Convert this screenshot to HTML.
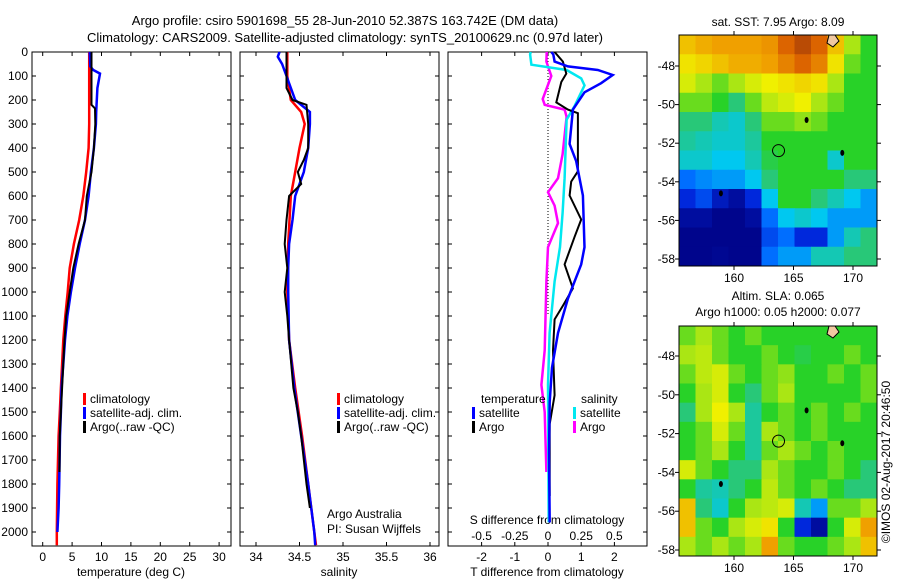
<!DOCTYPE html>
<html><head><meta charset="utf-8"><style>
body{margin:0;background:#fff;}
svg{display:block;font-family:"Liberation Sans",sans-serif;}
text{font-size:12px;fill:#000;}
</style></head><body>
<svg id="fig" width="900" height="580" viewBox="0 0 900 580" xmlns="http://www.w3.org/2000/svg">
<text x="345" y="25" text-anchor="middle" style="font-size:13px">Argo profile: csiro 5901698_55 28-Jun-2010 52.387S 163.742E (DM data)</text>
<text x="345" y="42" text-anchor="middle" style="font-size:13px">Climatology: CARS2009. Satellite-adjusted climatology: synTS_20100629.nc (0.97d later)</text>
<g id="g"></g>
</svg>
<script>
// ---- profile data ----
const tClimD=[0,100,200,300,400,500,600,700,800,900,1000,1100,1200,1300,1400,1500,1600,1700,1800,1900,2000,2055];
const tClimV=[7.9,7.9,7.9,7.9,7.8,7.4,6.9,6.2,5.3,4.6,4.25,3.85,3.5,3.3,3.1,2.9,2.7,2.6,2.5,2.45,2.4,2.4];
const tSatD=[0,60,75,90,150,250,300,400,500,600,700,800,900,1000,1100,1200,1300,1400,1500,1600,1800,1900,2000];
const tSatV=[8.0,8.1,8.6,9.75,9.3,9.1,9.05,8.7,8.2,7.8,7.2,6.3,5.5,4.8,4.2,3.8,3.5,3.2,3.1,2.95,2.8,2.7,2.5];
const tArgoD=[0,220,235,300,400,500,600,700,800,900,1000,1100,1200,1400,1500,1600,1750];
const tArgoV=[8.3,8.3,8.9,8.95,8.7,8.3,7.5,7.2,6.1,5.2,4.6,4.0,3.7,3.3,3.1,2.9,2.85];
const sClimD=[0,100,200,250,300,400,500,600,800,1000,1200,1400,1600,1800,2000,2055];
const sClimV=[34.36,34.36,34.4,34.52,34.56,34.5,34.45,34.4,34.37,34.36,34.38,34.45,34.53,34.6,34.67,34.69];
const sSatD=[0,20,50,100,200,250,300,400,500,600,700,800,900,1000,1200,1400,1600,1800,2000,2055];
const sSatV=[34.27,34.25,34.3,34.35,34.45,34.62,34.62,34.6,34.55,34.45,34.42,34.38,34.37,34.37,34.38,34.44,34.52,34.6,34.67,34.68];
const sArgoD=[0,150,200,220,300,400,450,500,550,600,700,800,900,1000,1100,1200,1400,1500,1600,1800,1900];
const sArgoV=[34.35,34.35,34.42,34.58,34.6,34.6,34.55,34.48,34.52,34.38,34.35,34.33,34.36,34.33,34.36,34.38,34.43,34.48,34.52,34.58,34.62];
const dTSatD=[0,10,40,60,75,96,130,168,240,383,455,598,813,885,1028,1171,1315,1458,1673,1960];
const dTSatV=[0.1,0.16,0.2,0.6,1.5,1.95,1.6,1.1,0.75,0.65,0.85,1.05,1.1,1.0,0.6,0.3,0.12,0.05,0.03,0.05];
const dTArgoD=[0,40,90,125,210,240,255,300,497,540,598,698,770,885,985,1057,1114,1243,1430,1550,1850];
const dTArgoV=[0.2,0.45,0.55,0.4,0.25,0.6,0.9,0.9,0.9,0.7,0.65,1.0,0.8,0.5,0.75,0.45,0.2,0.15,0.2,0.05,0.05];
const dSSatD=[0,10,53,75,110,139,225,282,526,670,813,956,1171,1387,1960];
const dSSatV=[-0.13,-0.135,-0.125,0.14,0.25,0.275,0.2,0.14,0.125,0.11,0.09,0.05,0.012,0,0.005];
const dSArgoD=[0,40,100,196,220,240,270,426,526,584,640,713,813,956,1243,1387,1500,1750];
const dSArgoV=[-0.01,-0.012,0.025,-0.04,-0.025,0.125,0.14,0.11,0.075,0,0.05,0.075,0,-0.012,-0.025,-0.05,-0.025,-0.012];
// ---- map data (12 x 12, colour index 0..1, rows north->south) ----
const sstGrid=[
[.75,.78,.8,.8,.8,.82,.9,.95,.9,.75,.6,.5],
[.7,.72,.75,.78,.78,.8,.85,.9,.85,.7,.55,.5],
[.65,.6,.55,.6,.65,.68,.7,.72,.7,.6,.5,.5],
[.55,.55,.5,.45,.55,.62,.65,.68,.6,.55,.5,.5],
[.45,.45,.4,.38,.45,.55,.55,.58,.55,.5,.5,.5],
[.42,.4,.38,.38,.42,.5,.5,.5,.5,.5,.5,.5],
[.38,.38,.35,.35,.4,.48,.5,.5,.5,.38,.5,.5],
[.25,.28,.3,.3,.35,.45,.5,.5,.5,.5,.45,.45],
[.15,.2,.1,.05,.15,.35,.5,.5,.45,.4,.35,.3],
[.05,.05,.02,.02,.05,.25,.35,.38,.35,.3,.3,.3],
[.02,.02,.02,.02,.02,.2,.25,.15,.15,.3,.4,.45],
[.02,.02,.03,.02,.02,.25,.3,.3,.4,.4,.45,.45]];
const slaGrid=[
[.55,.6,.55,.5,.55,.5,.5,.5,.5,.5,.5,.5],
[.6,.62,.55,.5,.5,.55,.5,.48,.5,.5,.55,.5],
[.55,.62,.65,.55,.5,.55,.58,.5,.5,.55,.5,.55],
[.5,.6,.65,.5,.45,.55,.6,.5,.5,.5,.5,.55],
[.45,.6,.68,.6,.42,.5,.55,.5,.55,.5,.55,.5],
[.5,.55,.65,.55,.42,.6,.55,.5,.55,.5,.5,.5],
[.5,.55,.6,.5,.42,.55,.6,.55,.5,.55,.5,.5],
[.65,.55,.5,.45,.45,.6,.55,.5,.5,.55,.5,.45],
[.5,.42,.4,.45,.5,.62,.55,.5,.55,.5,.45,.45],
[.75,.45,.38,.5,.6,.62,.65,.4,.3,.55,.55,.6],
[.75,.55,.5,.6,.65,.7,.5,.15,.05,.5,.65,.8],
[.6,.55,.6,.55,.6,.8,.55,.5,.5,.55,.6,.75]];
const depthTicks=[0,100,200,300,400,500,600,700,800,900,1000,1100,1200,1300,1400,1500,1600,1700,1800,1900,2000];
const tTicks=[0,5,10,15,20,25,30];
const sTicks=[34,34.5,35,35.5,36];
const sTickLabels=["34","34.5","35","35.5","36"];
const dTicks=[-2,-1,0,1,2];
const dSLabels=["-0.5","-0.25","0","0.25","0.5"];
const latTicks=[-48,-50,-52,-54,-56,-58];
const lonTicks=[160,165,170];
const argoPos=[163.742,-52.387];

const NS="http://www.w3.org/2000/svg";
const G=document.getElementById('g');
function mk(tag,attrs,parent){const e=document.createElementNS(NS,tag);for(const k in attrs)e.setAttribute(k,attrs[k]);(parent||G).appendChild(e);return e;}
const Y0=52,YB=546;
const yD=d=>Y0+d*0.24;
const xT=v=>42.7+5.88*v;
const xS=v=>256+87*(v-34);
const xDT=v=>548+33.2*v;
const xDS=v=>548+33.2*4*v;

function frame(x0,x1,name){const r=mk('rect',{x:x0,y:Y0,width:x1-x0,height:YB-Y0,fill:'none',stroke:'#000','stroke-width':1});

depthTicks.forEach(d=>{const y=yD(d);mk('line',{x1:x0,x2:x0+4,y1:y,y2:y,stroke:'#000'});mk('line',{x1:x1-4,x2:x1,y1:y,y2:y,stroke:'#000'});});}
function line(D,V,xf,col,name,w){const pts=D.map((d,i)=>xf(V[i]).toFixed(1)+','+yD(d).toFixed(1)).join(' ');
const p=mk('polyline',{points:pts,fill:'none',stroke:col,'stroke-width':w||2.5});
}
function txt(x,y,s,anchor,name){const t=mk('text',{x:x,y:y,'text-anchor':anchor||'start'});t.textContent=s;
return t;}
function legend(x,y,col,s,name){mk('rect',{x:x,y:y-10,width:3,height:12,fill:col});txt(x+7,y,s,'start',name);}

frame(32,231,'temperature-panel');frame(240,439,'salinity-panel');frame(448,647,'difference-panel');
depthTicks.forEach(d=>{txt(28,yD(d)+4,String(d),'end','depth-tick-label');});
tTicks.forEach(v=>{const x=xT(v);mk('line',{x1:x,x2:x,y1:YB,y2:YB-4,stroke:'#000'});mk('line',{x1:x,x2:x,y1:Y0,y2:Y0+4,stroke:'#000'});txt(x,561,String(v),'middle','temperature-tick-label');});
sTicks.forEach((v,i)=>{const x=xS(v);mk('line',{x1:x,x2:x,y1:YB,y2:YB-4,stroke:'#000'});mk('line',{x1:x,x2:x,y1:Y0,y2:Y0+4,stroke:'#000'});txt(x,561,sTickLabels[i],'middle','salinity-tick-label');});
dTicks.forEach((v,i)=>{const x=xDT(v);mk('line',{x1:x,x2:x,y1:YB,y2:YB-4,stroke:'#000'});mk('line',{x1:x,x2:x,y1:Y0,y2:Y0+4,stroke:'#000'});txt(x,561,String(v),'middle','t-diff-tick-label');txt(x,540,dSLabels[i],'middle','s-diff-tick-label');});
txt(131,576,'temperature (deg C)','middle','temperature-axis-title');
txt(339,576,'salinity','middle','salinity-axis-title');
txt(547,576,'T difference from climatology','middle','t-diff-axis-title');
txt(547,524,'S difference from climatology','middle','s-diff-axis-title');
mk('line',{x1:548,x2:548,y1:Y0,y2:yD(1100),stroke:'#000','stroke-dasharray':'1,2'});

line(tClimD,tClimV,xT,'#ff0000','temperature-climatology-line');
line(tSatD,tSatV,xT,'#0000ff','temperature-satellite-line');
line(tArgoD,tArgoV,xT,'#000000','temperature-argo-line',2);
line(sClimD,sClimV,xS,'#ff0000','salinity-climatology-line');
line(sSatD,sSatV,xS,'#0000ff','salinity-satellite-line');
line(sArgoD,sArgoV,xS,'#000000','salinity-argo-line',2);
line(dSArgoD,dSArgoV,xDS,'#ff00ff','s-diff-argo-line');
line(dSSatD,dSSatV,xDS,'#00e8f0','s-diff-satellite-line');
line(dTArgoD,dTArgoV,xDT,'#000000','t-diff-argo-line',2);
line(dTSatD,dTSatV,xDT,'#0000ff','t-diff-satellite-line');

[[83,'temp'],[337,'sal']].forEach(([x,n])=>{legend(x,403,'#ff0000','climatology',n+'-legend-climatology');legend(x,417,'#0000ff','satellite-adj. clim.',n+'-legend-satellite');legend(x,431,'#000','Argo(..raw -QC)',n+'-legend-argo');});
txt(481,403,'temperature','start','diff-legend-temperature-header');
txt(581,403,'salinity','start','diff-legend-salinity-header');
legend(472,417,'#0000ff','satellite','diff-legend-t-satellite');
legend(472,431,'#000','Argo','diff-legend-t-argo');
legend(573,417,'#00e8f0','satellite','diff-legend-s-satellite');
legend(573,431,'#ff00ff','Argo','diff-legend-s-argo');
txt(327,518,'Argo Australia','start','argo-australia-label');
txt(327,533,'PI: Susan Wijffels','start','pi-label');

// maps
const stops=[[0,[0,0,128]],[0.15,[0,40,220]],[0.25,[0,110,255]],[0.35,[0,200,240]],[0.45,[40,200,120]],[0.5,[40,210,40]],[0.6,[170,230,20]],[0.68,[240,240,0]],[0.8,[240,160,0]],[0.9,[220,100,0]],[1,[150,50,10]]];
function cmap(v){for(let i=1;i<stops.length;i++){if(v<=stops[i][0]){const a=stops[i-1],b=stops[i],t=(v-a[0])/(b[0]-a[0]);const c=a[1].map((x,k)=>Math.round(x+(b[1][k]-x)*t));return `rgb(${c})`;}}return 'rgb(150,50,10)';}
function map(grid,x0,y0,x1,y1,latA,yA,latB,yB,name){
const lonX=l=>734+(l-160)*11.9; const latY=l=>yA+(l-latA)*(yB-yA)/(latB-latA);
const rows=grid.length,cols=grid[0].length,cw=(x1-x0)/cols,ch=(y1-y0)/rows;
grid.forEach((row,r)=>row.forEach((v,c)=>{const e=mk('rect',{x:x0+c*cw,y:y0+r*ch,width:cw+0.5,height:ch+0.5,fill:cmap(v)});
}));
const f=mk('rect',{x:x0,y:y0,width:x1-x0,height:y1-y0,fill:'none',stroke:'#000'});

latTicks.forEach(l=>{const y=latY(l);mk('line',{x1:x0,x2:x0-4,y1:y,y2:y,stroke:'#000'});mk('line',{x1:x1,x2:x1+4,y1:y,y2:y,stroke:'#000'});txt(x0-4,y+4,String(l),'end',name+'-lat-label');});
lonTicks.forEach(l=>{const x=lonX(l);mk('line',{x1:x,x2:x,y1:y1,y2:y1+4,stroke:'#000'});mk('line',{x1:x,x2:x,y1:y0,y2:y0-4,stroke:'#000'});txt(x,y1+16,String(l),'middle',name+'-lon-label');});
const c=mk('circle',{cx:lonX(argoPos[0]),cy:latY(argoPos[1]),r:6,fill:'none',stroke:'#000'});

[[166.1,-50.8],[169.1,-52.5],[158.9,-54.6]].forEach(p=>mk('ellipse',{cx:lonX(p[0]),cy:latY(p[1]),rx:2,ry:3,fill:'#000'}));
mk('path',{d:`M${x0+150} ${y0} l6 0 l4 6 l-6 6 l-6 -4 z`,fill:'#f0c8a0',stroke:'#000'});
}
map(sstGrid,679,35,877,266,-48,66,-58,259,'sst-map');
map(slaGrid,679,326,877,556,-48,356,-58,550,'sla-map');
txt(778,26,'sat. SST: 7.95 Argo: 8.09','middle','sst-map-title');
txt(778,300,'Altim. SLA: 0.065','middle','sla-map-title-1');
txt(778,316,'Argo h1000: 0.05 h2000: 0.077','middle','sla-map-title-2');
const cr=txt(0,0,'©IMOS 02-Aug-2017 20:46:50','middle','copyright-timestamp');
cr.setAttribute('transform','translate(890,462) rotate(-90)');
</script>
</body></html>
